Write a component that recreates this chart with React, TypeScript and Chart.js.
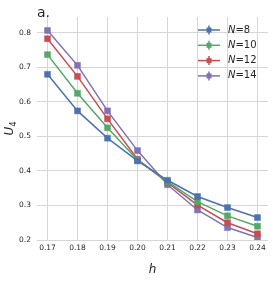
import React, { useEffect, useRef } from "react";
import { Chart, registerables } from "chart.js";

Chart.register(...registerables);

const hValues = [0.17, 0.18, 0.19, 0.2, 0.21, 0.22, 0.23, 0.24];
const u4N8 = [0.68, 0.574, 0.495, 0.429, 0.373, 0.326, 0.294, 0.265];
const u4N10 = [0.737, 0.625, 0.525, 0.432, 0.369, 0.311, 0.27, 0.24];
const u4N12 = [0.783, 0.674, 0.551, 0.434, 0.366, 0.301, 0.25, 0.218];
const u4N14 = [0.807, 0.706, 0.574, 0.459, 0.36, 0.287, 0.236, 0.207];
const seriesLabels = ["8", "10", "12", "14"];
const seriesColors = ["#4C72B0", "#55A868", "#C44E52", "#8172B2"];
const xTicks = [0.17, 0.18, 0.19, 0.2, 0.21, 0.22, 0.23, 0.24];
const yTicks = [0.2, 0.3, 0.4, 0.5, 0.6, 0.7, 0.8];

const FONT = "'DejaVu Sans', sans-serif";
const TEXT = "#262626";

const decorPlugin = {
  id: "decor",
  afterDraw(chart: any) {
    const ctx = chart.ctx as CanvasRenderingContext2D;
    const area = chart.chartArea;
    ctx.save();
    // Title "a."
    ctx.fillStyle = TEXT;
    ctx.font = `14px ${FONT}`;
    ctx.textAlign = "left";
    ctx.textBaseline = "alphabetic";
    ctx.fillText("a.", area.left, 17);

    // x title
    ctx.font = `italic 12px ${FONT}`;
    ctx.textAlign = "center";
    ctx.fillText("h", (area.left + area.right) / 2, 273);

    // y title U_4
    ctx.save();
    ctx.translate(13, (area.top + area.bottom) / 2);
    ctx.rotate(-Math.PI / 2);
    ctx.font = `italic 12px ${FONT}`;
    const wU = ctx.measureText("U").width;
    ctx.font = `8.5px ${FONT}`;
    const w4 = ctx.measureText("4").width;
    const total = wU + w4;
    ctx.textAlign = "left";
    ctx.font = `italic 12px ${FONT}`;
    ctx.fillText("U", -total / 2, 0);
    ctx.font = `8.5px ${FONT}`;
    ctx.fillText("4", -total / 2 + wU, 3);
    ctx.restore();

    // legend
    const x0 = 198;
    const x1 = 220;
    const xm = (x0 + x1) / 2;
    const rows = [30, 45.3, 60.6, 75.9];
    chart.data.datasets.forEach((ds: any, i: number) => {
      const y = rows[i];
      const c = seriesColors[i];
      ctx.strokeStyle = c;
      ctx.fillStyle = c;
      ctx.lineWidth = 1.5;
      ctx.beginPath();
      ctx.moveTo(x0, y);
      ctx.lineTo(x1, y);
      ctx.stroke();
      ctx.beginPath();
      ctx.moveTo(xm, y - 4.5);
      ctx.lineTo(xm, y + 4.5);
      ctx.stroke();
      ctx.fillRect(xm - 2.5, y - 2.5, 5, 5);
      ctx.fillStyle = TEXT;
      ctx.textBaseline = "middle";
      ctx.textAlign = "left";
      ctx.font = `italic 10px ${FONT}`;
      ctx.fillText("N", 228, y);
      const wN = ctx.measureText("N").width;
      ctx.font = `10px ${FONT}`;
      ctx.fillText("=" + seriesLabels[i], 228 + wN, y);
    });
    ctx.restore();
  },
};

export default function App() {
  const ref = useRef<HTMLCanvasElement | null>(null);
  useEffect(() => {
    document.body.style.margin = "0";
    const canvas = ref.current!;
    const series = [u4N8, u4N10, u4N12, u4N14];
    const chart = new Chart(canvas, {
      type: "line",
      data: {
        datasets: series.map((vals, i) => ({
          label: "N=" + seriesLabels[i],
          data: hValues.map((h, j) => ({ x: h, y: vals[j] })),
          borderColor: seriesColors[i],
          backgroundColor: seriesColors[i],
          pointBackgroundColor: seriesColors[i],
          pointBorderColor: seriesColors[i],
          pointStyle: "rect",
          pointRadius: 4.2,
          pointBorderWidth: 0.5,
          borderWidth: 1.5,
          tension: 0,
          fill: false,
        })),
      },
      options: {
        responsive: false,
        animation: false,
        events: [],
        layout: { padding: { top: 17, right: 5, left: 0, bottom: 0 } },
        plugins: {
          legend: { display: false },
          tooltip: { enabled: false },
          title: { display: false },
        },
        scales: {
          x: {
            type: "linear",
            min: 0.1665,
            max: 0.2435,
            afterBuildTicks: (scale: any) => {
              scale.ticks = xTicks.map((v) => ({ value: v }));
            },
            afterFit: (scale: any) => {
              scale.height = 41;
            },
            border: { display: false },
            grid: { color: "#d6d6d6", lineWidth: 1, drawTicks: false },
            ticks: {
              padding: 4,
              color: TEXT,
              font: { family: FONT, size: 7.5 },
              maxRotation: 0,
              autoSkip: false,
              callback: (v: any) => Number(v).toFixed(2),
            },
          },
          y: {
            type: "linear",
            min: 0.2,
            max: 0.846,
            afterBuildTicks: (scale: any) => {
              scale.ticks = yTicks.map((v) => ({ value: v }));
            },
            afterFit: (scale: any) => {
              scale.width = 37;
            },
            border: { display: false },
            grid: { color: "#d6d6d6", lineWidth: 1, drawTicks: false },
            ticks: {
              padding: 6,
              color: TEXT,
              font: { family: FONT, size: 7.5 },
              autoSkip: false,
              callback: (v: any) => Number(v).toFixed(1),
            },
          },
        },
      },
      plugins: [decorPlugin],
    });
    return () => chart.destroy();
  }, []);
  return (
    <div style={{ width: 273, height: 281, background: "#fff" }}>
      <canvas ref={ref} width={273} height={281} style={{ display: "block" }} />
    </div>
  );
}
